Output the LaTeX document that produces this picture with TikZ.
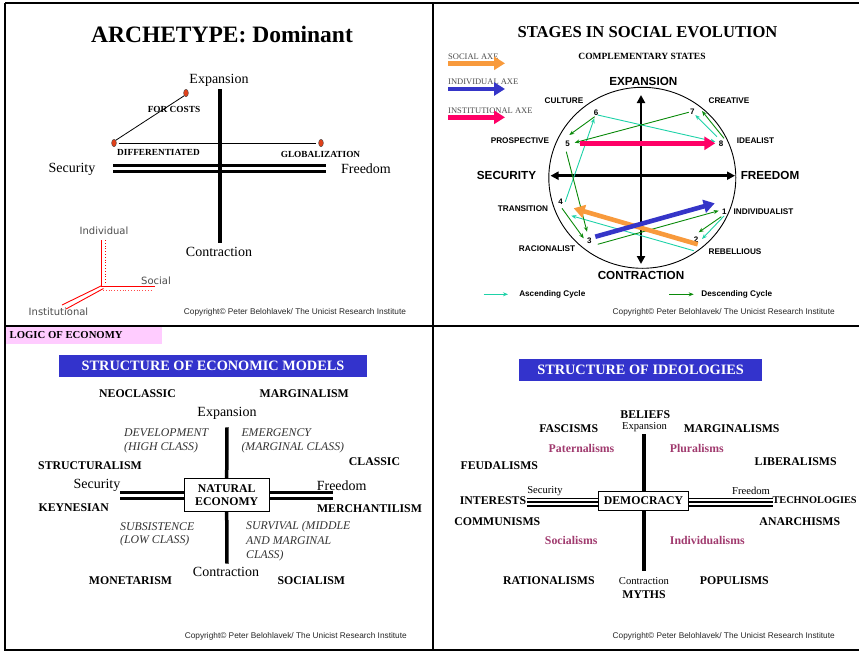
\documentclass[tikz,border=0pt]{standalone}
\usepackage{fontspec}
\setmainfont{Liberation Serif}
\newfontfamily\arialfam{Liberation Sans}
\newfontfamily\dejafam{DejaVu Sans}
\usetikzlibrary{arrows.meta,shapes.geometric,calc}
\definecolor{axeorange}{HTML}{F89A3C}
\definecolor{axeblue}{HTML}{3535C8}
\definecolor{axepink}{HTML}{FF0066}
\definecolor{ascteal}{HTML}{1ED2A8}
\definecolor{descgreen}{HTML}{0A8A0A}
\definecolor{plum}{HTML}{A03A6E}
\definecolor{titleblue}{HTML}{3333CC}
\definecolor{logicpink}{HTML}{FFCCFF}
\definecolor{dotred}{HTML}{E0401A}
\newcommand{\fsz}[1]{\fontsize{#1}{#1}\selectfont}
\begin{document}
\begin{tikzpicture}[x=1pt,y=-1pt,
  lbl/.style={inner sep=0pt},
  bold/.style={lbl,font=\bfseries\fsz{11.8}},
  smallbold/.style={lbl,font=\bfseries\fsz{9.3}},
  axword/.style={lbl,font=\fsz{14}},
  tinyax/.style={lbl,font=\fsz{10.6}},
  ital/.style={lbl,anchor=west,font=\itshape\fsz{11.8},text=black!80},
  stage/.style={lbl,font=\arialfam\bfseries\fsz{8.2}},
  pole/.style={lbl,font=\arialfam\bfseries\fsz{11.7}},
  num/.style={lbl,font=\arialfam\bfseries\fsz{8}},
  copyr/.style={lbl,font=\arialfam\fsz{8.3},text=black!85},
  frame/.style={line width=2pt},
  bar/.style={line width=3.5pt},
  rule/.style={line width=2.6pt},
  trule/.style={line width=1.7pt},
  asc/.style={ascteal,line width=0.9pt,-{Stealth[length=5pt,width=4pt]}},
  desc/.style={descgreen,line width=0.9pt,-{Stealth[length=5pt,width=4pt]}},
  bigarrow/.style={line width=4.6pt,-{Triangle[length=11pt,width=13pt]}},
  reddot/.style={ellipse,draw=black!70,fill=dotred,line width=0.4pt,minimum width=4.8pt,minimum height=7.5pt,inner sep=0pt},
  redline/.style={red,line width=0.9pt},
  legend/.style={lbl,anchor=west,font=\fsz{8.5},text=black!70},
  boxtitle/.style={fill=titleblue,text=white,font=\bfseries\fsz{14.3},inner sep=0pt},
  plumtext/.style={lbl,font=\bfseries\fsz{11.8},text=plum}]
\useasboundingbox (0,0) rectangle (859,653);

% panel frames
\draw[frame] (5,3) -- (859,3);
\draw[frame] (5,3) -- (5,650) -- (859,650);
\draw[frame] (433,3) -- (433,650);
\draw[frame] (5,326) -- (859,326);

% ---------- Archetype: Dominant ----------
\node[lbl,font=\bfseries\fsz{23.5}] (ttl1) at (222,35) {ARCHETYPE: Dominant};
\draw[rule] (113,165.3) -- (326,165.3);
\draw[rule] (113,171.5) -- (326,171.5);
\draw[bar] (220,89) -- (220,243);
\node[axword] (aexp) at (219,80) {Expansion};
\node[axword] (acon) at (219,252) {Contraction};
\node[axword] (asec) at (72,169) {Security};
\node[axword] (afre) at (366,169) {Freedom};
\node[reddot] (dcost) at (186,93) {};
\node[reddot] (ddiff) at (114,143) {};
\node[reddot] (dglob) at (321,143) {};
\draw[line width=0.8pt] (ddiff.north east) -- (dcost.south west);
\draw[line width=0.8pt] ($(ddiff.east)+(2,0)$) -- ($(dglob.west)+(-2,0)$);
\node[smallbold] (lcost) at (174,109) {FOR COSTS};
\node[smallbold] (ldiff) at (158.5,152) {DIFFERENTIATED};
\node[smallbold] (lglob) at (320.5,154) {GLOBALIZATION};

% small red axes
\coordinate (o) at (101,286);
\coordinate (ind) at (101,240);
\coordinate (soc) at (155,286);
\coordinate (ins) at (62,305);
\draw[redline] (ind) -- (o) -- (soc);
\draw[redline] (o) -- (ins);
\draw[redline] (103.5,288.5) -- (66,309);
\draw[red,line width=0.8pt,dotted] (105,240) -- (105,284);
\draw[red!70,line width=0.8pt,dotted] (103,290) -- (151,290);
\node[lbl,font=\dejafam\fsz{10},text=black!70] (tind) at (104,231) {Individual};
\node[lbl,font=\dejafam\fsz{10},text=black!70] (tsoc) at (156,281) {Social};
\node[lbl,font=\dejafam\fsz{10},text=black!70] (tins) at (58.5,312) {Institutional};
\node[copyr] (c1) at (295,312) {Copyright© Peter Belohlavek/ The Unicist Research Institute};

% ---------- Stages in social evolution ----------
\node[lbl,font=\bfseries\fsz{16.6}] (ttl2) at (647.5,31.7) {STAGES IN SOCIAL EVOLUTION};
\node[lbl,font=\bfseries\fsz{9.5}] (comp) at (642,56.7) {COMPLEMENTARY STATES};
\node[legend] (lsoc) at (448,56.5) {SOCIAL AXE};
\node[legend] (lind) at (448,81.5) {INDIVIDUAL AXE};
\node[legend] (lins) at (448,110.5) {INSTITUTIONAL AXE};
\draw[bigarrow,axeorange] (448,63.3) -- (505,63.3);
\draw[bigarrow,axeblue] (448,89) -- (505,89);
\draw[bigarrow,axepink] (448,117.3) -- (505,117.3);

\draw[line width=0.9pt] (642.3,177.8) ellipse [x radius=93.5, y radius=90.5];
\draw[line width=2.5pt,{Triangle[length=8pt,width=8pt]}-{Triangle[length=8pt,width=8pt]}] (641,95) -- (641,264);
\draw[line width=2.5pt,{Triangle[length=8pt,width=8pt]}-{Triangle[length=8pt,width=8pt]}] (550.5,175.7) -- (735,175.7);

\node[pole] (pexp) at (643.3,81.7) {EXPANSION};
\node[pole] (pcon) at (641,275.7) {CONTRACTION};
\node[pole] (psec) at (506.5,175.7) {SECURITY};
\node[pole] (pfre) at (770,175.7) {FREEDOM};
\node[stage] (scul) at (564,101) {CULTURE};
\node[stage] (scre) at (729,101) {CREATIVE};
\node[stage] (spro) at (520,141) {PROSPECTIVE};
\node[stage] (sidl) at (755.5,141) {IDEALIST};
\node[stage] (stra) at (523,209) {TRANSITION};
\node[stage] (sinv) at (763.5,212) {INDIVIDUALIST};
\node[stage] (srac) at (547,248.3) {RACIONALIST};
\node[stage] (sreb) at (735,252) {REBELLIOUS};

\node[num] (n1) at (724.3,212) {1};
\node[num] (n2) at (696,240) {2};
\node[num] (n3) at (589.3,240.7) {3};
\node[num] (n4) at (560.7,202) {4};
\node[num] (n5) at (567.7,144) {5};
\node[num] (n6) at (596,112.3) {6};
\node[num] (n7) at (692.3,112) {7};
\node[num] (n8) at (721,144) {8};

% ascending cycle
\draw[asc] (724,216) -- (702,239);
\draw[asc] (693.7,250.7) -- (571.3,215.7);
\draw[asc] (565.3,201.7) -- (594.3,118.3);
\draw[asc] (597.7,115) -- (715.3,141.7);
\draw[asc] (717,136.7) -- (695.3,115);
% descending cycle
\draw[desc] (724,138.3) -- (702,111);
\draw[desc] (688.7,112.3) -- (574.7,142.7);
\draw[desc] (594.7,116.7) -- (569.3,135);
\draw[desc] (566.3,151.7) -- (587,231.7);
\draw[desc] (562,208.3) -- (583.7,238.3);
\draw[desc] (597.7,244.3) -- (718.7,210.7);
\draw[desc] (721.3,216.7) -- (698.7,232.3);

\draw[bigarrow,axeorange] (697.7,244.3) -- (573.7,208.3);
\draw[bigarrow,axeblue] (595.3,236.7) -- (714.7,203.3);
\draw[bigarrow,axepink] (580.3,143.3) -- (715.3,143.3);

\draw[asc] (483.7,294.3) -- (508,294.3);
\node[stage] (lasc) at (552.3,294.3) {Ascending Cycle};
\draw[desc] (669.3,294.3) -- (693.7,294.3);
\node[stage] (ldsc) at (736.8,294.3) {Descending Cycle};
\node[copyr] (c2) at (723.7,312) {Copyright© Peter Belohlavek/ The Unicist Research Institute};

% ---------- Structure of economic models ----------
\node[fill=logicpink,minimum width=155.7pt,minimum height=17pt,inner sep=0pt,anchor=north west] (logic) at (6,327) {};
\node[lbl,anchor=west,font=\bfseries\fsz{10.7}] (logict) at (9.5,335.5) {LOGIC OF ECONOMY};
\node[boxtitle,minimum width=308pt,minimum height=21.7pt] (ttl3) at (213,365.8) {STRUCTURE OF ECONOMIC MODELS};

\node[draw,line width=1pt,minimum width=85.3pt,minimum height=33.4pt,inner sep=0pt,font=\bfseries\fsz{11.8},align=center] (nat) at (226.7,495) {NATURAL\\[1.5pt]ECONOMY};
\draw[bar] (227,427.3) -- (nat.north);
\draw[bar] (nat.south) -- (227,563.7);
\draw[rule] (120,492.7) -- (nat.west |- 0,492.7);
\draw[rule] (120,498.6) -- (nat.west |- 0,498.6);
\draw[rule] (nat.east |- 0,492.7) -- (333.3,492.7);
\draw[rule] (nat.east |- 0,498.6) -- (333.3,498.6);

\node[bold] (neo) at (137.5,394) {NEOCLASSIC};
\node[bold] (mar) at (304.3,394) {MARGINALISM};
\node[axword] (eexp) at (227,413.3) {Expansion};
\node[ital] (dev1) at (124,432.7) {DEVELOPMENT};
\node[ital] (dev2) at (124,448) {(HIGH CLASS)};
\node[ital] (eme1) at (241.3,432.7) {EMERGENCY};
\node[ital] (eme2) at (241.3,448) {(MARGINAL CLASS)};
\node[bold] (str) at (90,465.7) {STRUCTURALISM};
\node[bold] (cla) at (374.5,461.7) {CLASSIC};
\node[axword] (esec) at (97,485.3) {Security};
\node[axword] (efre) at (341.7,485.3) {Freedom};
\node[bold] (key) at (73.7,507.7) {KEYNESIAN};
\node[bold] (mer) at (369.5,508.7) {MERCHANTILISM};
\node[ital] (sub1) at (120,527) {SUBSISTENCE};
\node[ital] (sub2) at (120,541) {(LOW CLASS)};
\node[ital] (sur1) at (246,527) {SURVIVAL (MIDDLE};
\node[ital] (sur2) at (246,541) {AND MARGINAL};
\node[ital] (sur3) at (246,555.7) {CLASS)};
\node[axword] (econ) at (226,572.3) {Contraction};
\node[bold] (mon) at (130.5,581) {MONETARISM};
\node[bold] (soc) at (311.3,581) {SOCIALISM};
\node[copyr] (c3) at (295.8,636) {Copyright© Peter Belohlavek/ The Unicist Research Institute};

% ---------- Structure of ideologies ----------
\node[boxtitle,minimum width=242.7pt,minimum height=21.7pt] (ttl4) at (640.6,369.8) {STRUCTURE OF IDEOLOGIES};
\node[draw,line width=1pt,minimum width=90.4pt,minimum height=19pt,inner sep=0pt,font=\bfseries\fsz{11.8}] (dem) at (643.5,500.8) {DEMOCRACY};
\draw[bar] (644,434.3) -- (dem.north -| 644,0);
\draw[bar] (dem.south -| 644,0) -- (644,570.7);
\foreach \yy in {498.6,502.2,505.8}{
  \draw[trule] (526.5,\yy) -- (dem.west |- 0,\yy);
  \draw[trule] (dem.east |- 0,\yy) -- (772.5,\yy);
}
\node[bold] (bel) at (645.3,415) {BELIEFS};
\node[tinyax] (iexp) at (644.5,426.7) {Expansion};
\node[bold] (fas) at (568.7,429) {FASCISMS};
\node[bold] (mgs) at (731.7,429) {MARGINALISMS};
\node[plumtext] (pat) at (581.5,448) {Paternalisms};
\node[plumtext] (plu) at (696.8,448) {Pluralisms};
\node[bold] (feu) at (499.3,466) {FEUDALISMS};
\node[bold] (lib) at (795.7,462) {LIBERALISMS};
\node[tinyax] (isec) at (545,490.7) {Security};
\node[tinyax] (ifre) at (751,491.3) {Freedom};
\node[bold] (int) at (493,501) {INTERESTS};
\node[lbl,anchor=west,font=\bfseries\fsz{10.3}] (tec) at (772.3,500.5) {TECHNOLOGIES};
\node[bold] (com) at (497.3,522) {COMMUNISMS};
\node[bold] (ana) at (799.8,522) {ANARCHISMS};
\node[plumtext] (sol) at (571.2,540) {Socialisms};
\node[plumtext] (idv) at (707.3,540) {Individualisms};
\node[bold] (rat) at (548.8,581) {RATIONALISMS};
\node[tinyax] (icon) at (644,581) {Contraction};
\node[bold] (pop) at (734.3,581) {POPULISMS};
\node[bold] (myt) at (644,595) {MYTHS};
\node[copyr] (c4) at (723.7,636) {Copyright© Peter Belohlavek/ The Unicist Research Institute};
\end{tikzpicture}
\end{document}
